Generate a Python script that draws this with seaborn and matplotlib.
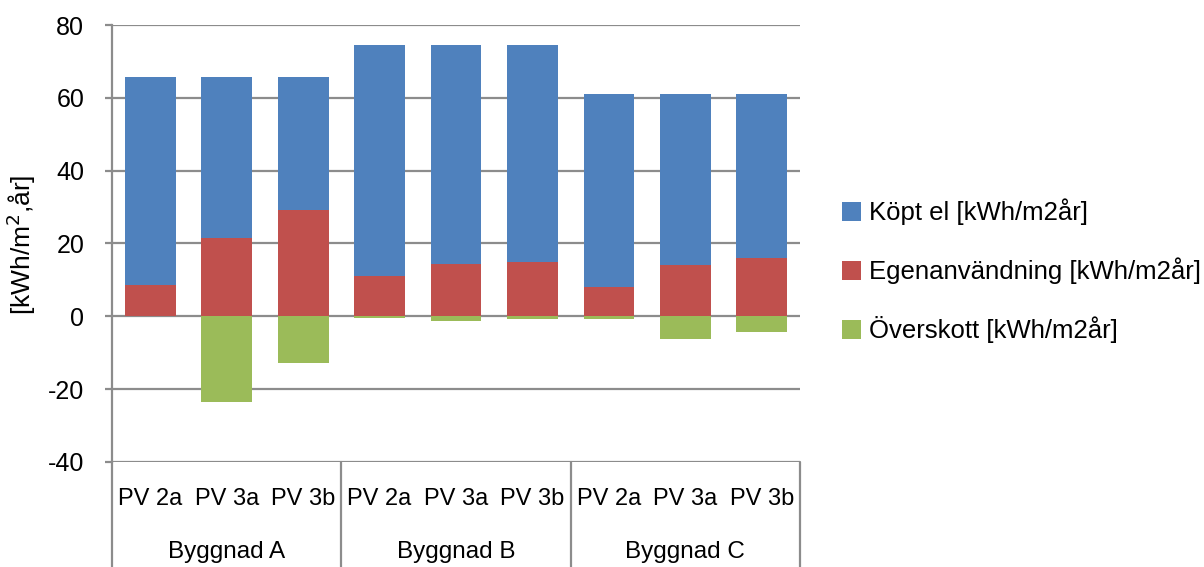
import matplotlib
matplotlib.use("Agg")
import matplotlib.pyplot as plt
from matplotlib.lines import Line2D
from matplotlib.patches import Patch
import seaborn as sns
import pandas as pd

# Building groups and PV variants
buildings = ["Byggnad A", "Byggnad B", "Byggnad C"]
variants = ["PV 2a", "PV 3a", "PV 3b"]

# kWh/m2 per year, one value per building/variant (A: 2a,3a,3b, B..., C...)
egenanvandning = [8.5, 21.4, 29.1, 11.0, 14.3, 14.8, 8.0, 14.0, 15.9]
kopt_el = [57.3, 44.4, 36.7, 63.6, 60.3, 59.8, 53.1, 47.1, 45.2]
overskott = [0.0, -23.4, -12.7, -0.4, -1.2, -0.8, -0.6, -6.3, -4.3]

series_names = ["Köpt el [kWh/m2år]", "Egenanvändning [kWh/m2år]", "Överskott [kWh/m2år]"]
colors = ["#4F81BD", "#C0504D", "#9BBB59"]

sns.set_theme(style="white")
plt.rcParams["font.family"] = ["Liberation Sans Narrow", "Liberation Sans", "DejaVu Sans"]
plt.rcParams["axes.unicode_minus"] = False
plt.rcParams["text.color"] = "#000000"

keys = [f"{b}|{v}" for b in buildings for v in variants]
df = pd.DataFrame({"key": keys, "egen": egenanvandning, "kopt": kopt_el, "over": overskott})

fig = plt.figure(figsize=(12.04, 5.67), dpi=100)
ax = fig.add_axes([0.0930, 0.1852, 0.5715, 0.7707])

grid_col = "#8C8C8C"
for yv in range(-40, 81, 20):
    ax.axhline(yv, color=grid_col, lw=1.6, zorder=0)

bw = 0.665
sns.barplot(data=df, x="key", y="egen", order=keys, color=colors[1], width=bw,
            saturation=1, ax=ax, zorder=2, linewidth=0)
sns.barplot(data=df, x="key", y="kopt", order=keys, color=colors[0], width=bw,
            saturation=1, ax=ax, zorder=2, linewidth=0, bottom=df["egen"].values)
sns.barplot(data=df, x="key", y="over", order=keys, color=colors[2], width=bw,
            saturation=1, ax=ax, zorder=2, linewidth=0)

ax.set_xlim(-0.5, len(keys) - 0.5)
ax.set_ylim(-40, 80)
ax.set_yticks(range(-40, 81, 20))
ax.set_xticks([])
ax.set_xlabel("")
ax.set_ylabel("")
for s in ["top", "right", "bottom"]:
    ax.spines[s].set_visible(False)
ax.spines["left"].set_color(grid_col)
ax.spines["left"].set_linewidth(1.6)
ax.tick_params(axis="y", which="major", left=True, length=5, width=1.6,
               color=grid_col, pad=15, labelsize=18, labelcolor="#000000")

fig.text(21 / 1204, 1 - 245 / 567, "[kWh/m$^2$,år]", rotation=90, ha="center",
         va="center", fontsize=19, color="#000000")

# Two-level category axis below the plot
trans = ax.get_xaxis_transform()
for i, k in enumerate(keys):
    ax.text(i, -0.085, k.split("|")[1], transform=trans, ha="center", va="center",
            fontsize=17, color="#000000", clip_on=False)
for g, b in enumerate(buildings):
    ax.text(g * 3 + 1, -0.205, b, transform=trans, ha="center", va="center",
            fontsize=17.5, color="#000000", clip_on=False)
for g in range(len(buildings) + 1):
    ax.add_line(Line2D([g * 3 - 0.5, g * 3 - 0.5], [0, -0.25], transform=trans,
                       color=grid_col, lw=1.6, clip_on=False))

handles = [Patch(facecolor=c, edgecolor="none") for c in colors]
fig.legend(handles, series_names, loc="center left", bbox_to_anchor=(0.68, 0.522),
           frameon=False, fontsize=18.5, handlelength=0.75, handleheight=0.75,
           handletextpad=0.3, labelspacing=1.25)

fig.savefig("out.png", dpi=100)
